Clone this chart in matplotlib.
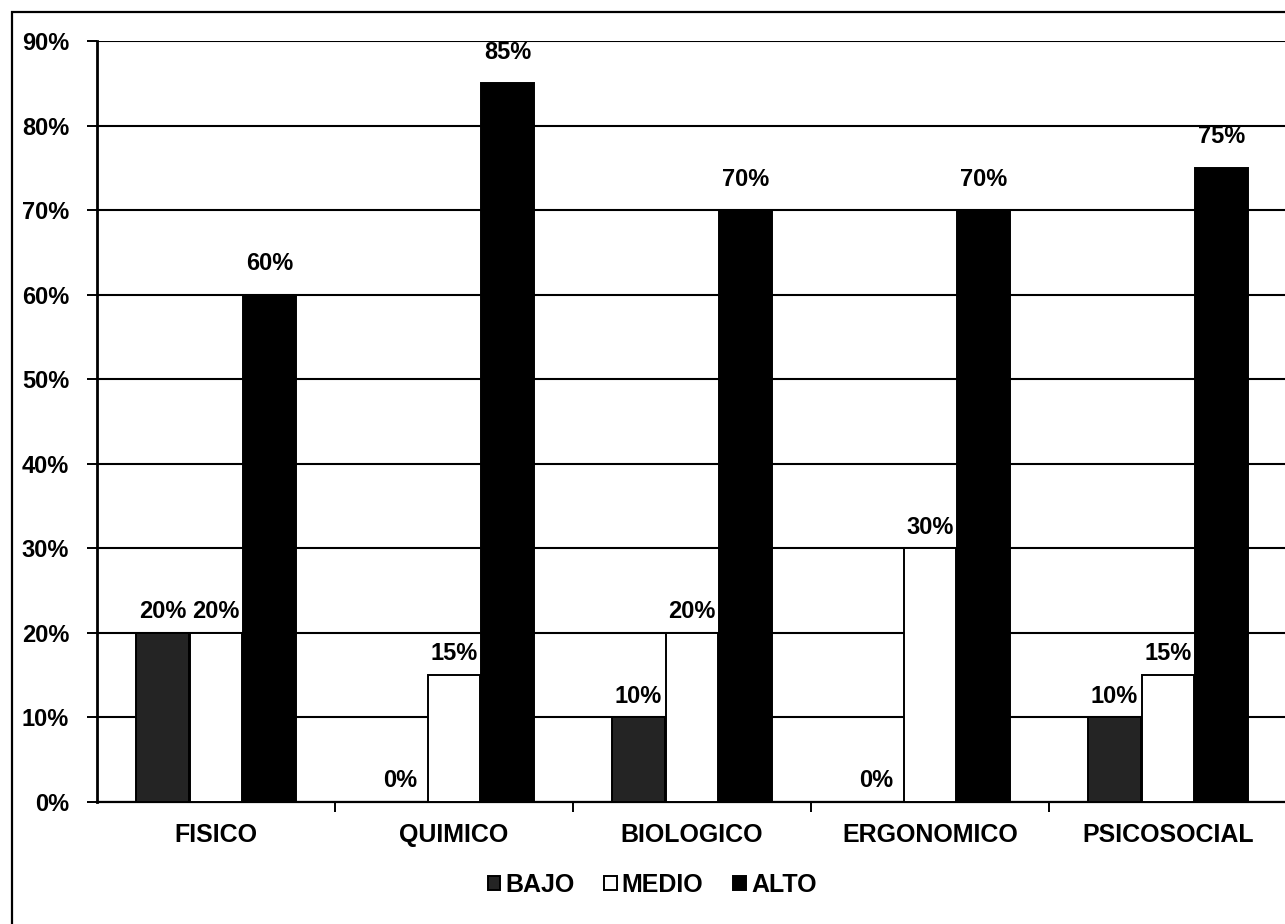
import matplotlib
matplotlib.use("Agg")
import matplotlib.pyplot as plt
import matplotlib.patches as patches
from matplotlib.ticker import FixedLocator, PercentFormatter

categories = ["FISICO", "QUIMICO", "BIOLOGICO", "ERGONOMICO", "PSICOSOCIAL"]
series_names = ["BAJO", "MEDIO", "ALTO"]
bajo = [20, 0, 10, 0, 10]
medio = [20, 15, 20, 30, 15]
alto = [60, 85, 70, 70, 75]
y_ticks = [0, 10, 20, 30, 40, 50, 60, 70, 80, 90]

plt.rcParams['font.family'] = ['Liberation Sans', 'DejaVu Sans']
plt.rcParams['font.weight'] = 'bold'

fig = plt.figure(figsize=(12.85, 9.24), dpi=100)
ax = fig.add_axes([97 / 1285, 1 - 802 / 924, 1190 / 1285, 761 / 924])

# outer frame around the whole chart
fig.patches.append(patches.Rectangle((12 / 1285, -0.05), 1.1, 1 - 12 / 924 + 0.05,
                                     transform=fig.transFigure, fill=False,
                                     edgecolor="black", linewidth=1.6))

x = range(len(categories))
width = 0.22
offsets = [-0.225, 0.0, 0.225]
faces = ["#242424", "white", "black"]
label_lift = [7, 7, 14]

for vals, off, face, name, lift in zip([bajo, medio, alto], offsets, faces,
                                       series_names, label_lift):
    xs = [i + off for i in x]
    bars = ax.bar(xs, vals, width, color=face, edgecolor="black",
                  linewidth=1.4, label=name, zorder=3)
    for b, v in zip(bars, vals):
        ax.annotate(f"{v}%", (b.get_x() + b.get_width() / 2, v),
                    xytext=(0, lift), textcoords="offset points",
                    ha="center", va="bottom", fontsize=17, fontweight="bold")

ax.set_xlim(-0.5, len(categories) - 0.5)
ax.set_ylim(0, 90)
ax.yaxis.set_major_locator(FixedLocator(y_ticks))
ax.yaxis.set_major_formatter(PercentFormatter(decimals=0))
ax.grid(axis="y", color="black", linewidth=1.5, zorder=0)
ax.set_axisbelow(True)

ax.set_xticks(list(x))
ax.set_xticklabels(categories, fontsize=18, fontweight="bold")
ax.xaxis.set_minor_locator(FixedLocator([i + 0.5 for i in x]))
ax.tick_params(axis="x", which="major", length=0, pad=15)
ax.tick_params(axis="x", which="minor", length=7, width=1.4, direction="out")
ax.tick_params(axis="y", length=7, width=1.4, direction="out", pad=13, labelsize=17)
for lab in ax.get_yticklabels():
    lab.set_fontweight("bold")

for s in ["top", "right"]:
    ax.spines[s].set_visible(False)
ax.spines["left"].set_linewidth(2)
ax.spines["bottom"].set_linewidth(1.6)

fig.legend(loc="center", bbox_to_anchor=(652 / 1285, 1 - 885 / 924), ncol=3,
           frameon=False, fontsize=18, handlelength=0.5, handleheight=0.5,
           handletextpad=0.2, columnspacing=1.2, borderaxespad=0)

fig.savefig("out.png", dpi=100)
